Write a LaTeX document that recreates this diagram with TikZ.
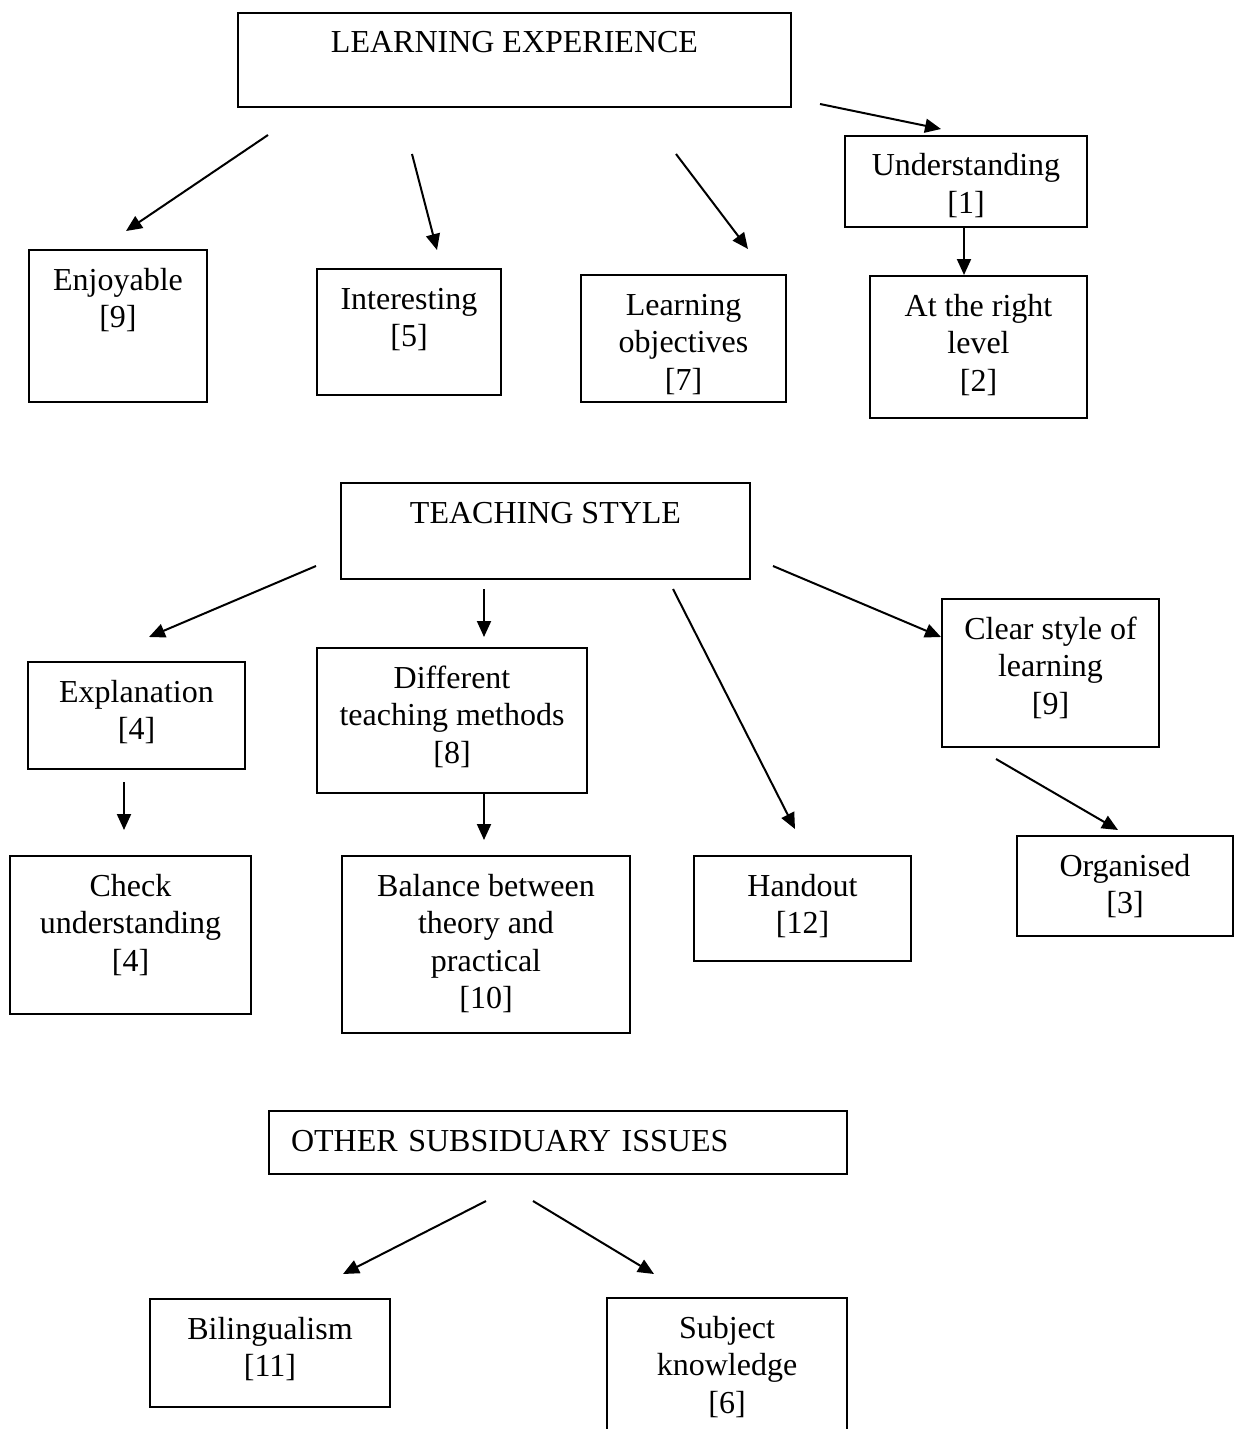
\documentclass[tikz,border=0pt]{standalone}
\usepackage{fontspec}
\setmainfont{Liberation Serif}
\usepackage{tikz}
\usetikzlibrary{arrows.meta, positioning}

\tikzset{
  box/.style={draw, line width=1pt, anchor=north west, inner sep=0pt,
    align=center, text height=20pt, font=\fontsize{16}{18.8}\selectfont},
  l2/.style={text height=38.8pt},
  l3/.style={text height=57.6pt},
  l4/.style={text height=76.4pt},
  arr/.style={line width=1pt, -{Triangle[length=8pt, width=7pt]}}
}

\begin{document}
\begin{tikzpicture}[x=0.5pt, y=-0.5pt]
    \useasboundingbox (0,0) rectangle (1235,1429);

    % learning experience
    \node[box, minimum width=276.5pt, text depth=27pt] (learn) at (237,12) {LEARNING EXPERIENCE};
    \node[box, l2, minimum width=121pt, text depth=6.7pt] (underst) at (844,135) {Understanding\\{[1]}};
    \node[box, l2, minimum width=89pt, text depth=37.2pt] (enjoy) at (28,249) {Enjoyable\\{[9]}};
    \node[box, l2, minimum width=92pt, text depth=24.2pt] (interest) at (316,268) {Interesting\\{[5]}};
    \node[box, l3, minimum width=102.5pt, text depth=5.9pt] (objectives) at (580,274) {Learning\\objectives\\{[7]}};
    \node[box, l3, minimum width=108.5pt, text depth=13.4pt] (level) at (869,275) {At the right\\level\\{[2]}};

    % teaching style
    \node[box, minimum width=204.5pt, text depth=28pt] (teach) at (340,482) {TEACHING STYLE};
    \node[box, l2, minimum width=108.5pt, text depth=14.7pt] (explain) at (27,661) {Explanation\\{[4]}};
    \node[box, l3, minimum width=135pt, text depth=14.9pt] (methods) at (316,647) {Different\\teaching methods\\{[8]}};
    \node[box, l3, minimum width=108.5pt, text depth=16.4pt] (clear) at (941,598) {Clear style of\\learning\\{[9]}};
    \node[box, l3, minimum width=120.5pt, text depth=21.4pt] (check) at (9,855) {Check\\understanding\\{[4]}};
    \node[box, l4, minimum width=144pt, text depth=12.1pt] (balance) at (341,855) {Balance between\\theory and\\practical\\{[10]}};
    \node[box, l2, minimum width=108.5pt, text depth=13.7pt] (handout) at (693,855) {Handout\\{[12]}};
    \node[box, l2, minimum width=108pt, text depth=11.2pt] (organised) at (1016,835) {Organised\\{[3]}};

    % other issues
    \node[box, align=left, text width=267pt, inner xsep=11pt, text depth=11.5pt] (other) at (268,1110) {OTHER SUBSIDUARY ISSUES};
    \node[box, l2, minimum width=120pt, text depth=15.2pt] (biling) at (149,1298) {Bilingualism\\{[11]}};
    \node[box, l3, minimum width=120pt, text depth=22.4pt] (subject) at (606,1297) {Subject\\knowledge\\{[6]}};

    % arrow ends
    \coordinate (learn-enjoy-s) at (268,135);
    \coordinate (learn-enjoy-e) at (126,231);
    \coordinate (learn-interest-s) at (412,154);
    \coordinate (learn-interest-e) at (437,250);
    \coordinate (learn-obj-s) at (676,154);
    \coordinate (learn-obj-e) at (748,249);
    \coordinate (learn-underst-s) at (820,104);
    \coordinate (learn-underst-e) at (941,129);
    \coordinate (teach-explain-s) at (316,566);
    \coordinate (teach-explain-e) at (149,637);
    \coordinate (teach-methods-s) at (484,589);
    \coordinate (teach-methods-e) at (484,637);
    \coordinate (teach-handout-s) at (673,589);
    \coordinate (teach-handout-e) at (795,829);
    \coordinate (teach-clear-s) at (773,566);
    \coordinate (teach-clear-e) at (941,637);
    \coordinate (explain-check-s) at (124,782);
    \coordinate (explain-check-e) at (124,830);
    \coordinate (methods-balance-s) at (484,793);
    \coordinate (methods-balance-e) at (484,840);
    \coordinate (clear-org-s) at (996,759);
    \coordinate (clear-org-e) at (1118,830);
    \coordinate (other-biling-s) at (486,1201);
    \coordinate (other-biling-e) at (343,1274);
    \coordinate (other-subject-s) at (533,1201);
    \coordinate (other-subject-e) at (654,1274);

    \draw[arr] (learn-enjoy-s) -- (learn-enjoy-e);
    \draw[arr] (learn-interest-s) -- (learn-interest-e);
    \draw[arr] (learn-obj-s) -- (learn-obj-e);
    \draw[arr] (learn-underst-s) -- (learn-underst-e);
    \draw[arr] (underst.south -| 964,0) -- (level.north -| 964,0);
    \draw[arr] (teach-explain-s) -- (teach-explain-e);
    \draw[arr] (teach-methods-s) -- (teach-methods-e);
    \draw[arr] (teach-handout-s) -- (teach-handout-e);
    \draw[arr] (teach-clear-s) -- (teach-clear-e);
    \draw[arr] (explain-check-s) -- (explain-check-e);
    \draw[arr] (methods-balance-s) -- (methods-balance-e);
    \draw[arr] (clear-org-s) -- (clear-org-e);
    \draw[arr] (other-biling-s) -- (other-biling-e);
    \draw[arr] (other-subject-s) -- (other-subject-e);
\end{tikzpicture}
\end{document}
